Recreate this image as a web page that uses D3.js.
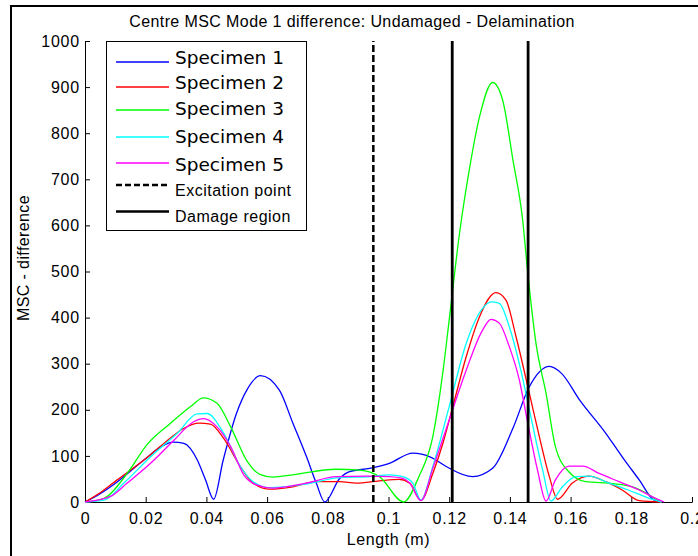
<!DOCTYPE html>
<html>
<head>
<meta charset="utf-8">
<script src="https://cdn.jsdelivr.net/npm/d3@7"></script>
<style>
  body { margin: 0; background: #fff; }
  text { font-family: "Liberation Sans", Arial, sans-serif; }
</style>
</head>
<body>
<div id="chart"></div>
<script>
// values: [length (m), MSC difference]
const specimen1 = [[0, 0], [0.005, 18], [0.0107, 44], [0.0194, 91], [0.0249, 119], [0.029, 130], [0.0326, 127],
  [0.037, 91], [0.0397, 48], [0.0424, 6], [0.0455, 90], [0.0499, 192], [0.0535, 245], [0.0578, 274], [0.064, 243],
  [0.0685, 171], [0.073, 98], [0.0762, 41], [0.079, 0], [0.0839, 51], [0.0872, 66], [0.0938, 73], [0.1003, 84],
  [0.108, 106], [0.114, 97], [0.119, 77], [0.1277, 55], [0.1343, 73], [0.141, 160], [0.1464, 250], [0.153, 294],
  [0.157, 279], [0.163, 221], [0.1716, 149], [0.177, 98], [0.1826, 48], [0.1875, 4], [0.19, 0]];
const specimen2 = [[0, 0], [0.005, 20], [0.0106, 48], [0.0194, 91], [0.026, 127], [0.0326, 160], [0.0375, 171],
  [0.0413, 169], [0.0457, 138], [0.0512, 77], [0.0554, 41], [0.0609, 28], [0.0685, 33], [0.0762, 44], [0.0839, 44],
  [0.0894, 41], [0.097, 46], [0.1036, 49], [0.107, 41], [0.1107, 4], [0.1146, 62], [0.1179, 127], [0.1212, 207],
  [0.1256, 315], [0.13, 402], [0.1354, 454], [0.1387, 438], [0.142, 359], [0.1464, 236], [0.1497, 142], [0.153, 55],
  [0.1557, 6], [0.1606, 41], [0.166, 56], [0.1716, 44], [0.177, 26], [0.1826, 3], [0.19, 0]];
const specimen3 = [[0, 0], [0.0063, 8], [0.0139, 62], [0.0205, 125], [0.0282, 171], [0.0348, 207], [0.039, 226],
  [0.0435, 214], [0.048, 163], [0.0532, 91], [0.0576, 60], [0.062, 54], [0.0685, 59], [0.0828, 71], [0.0905, 69],
  [0.097, 55], [0.105, 0], [0.11, 55], [0.1146, 142], [0.118, 286], [0.12, 395], [0.1234, 583], [0.1266, 720],
  [0.13, 836], [0.1343, 910], [0.1376, 872], [0.141, 742], [0.1442, 612], [0.1458, 503], [0.1486, 344],
  [0.1519, 236], [0.155, 120], [0.1595, 65], [0.165, 44], [0.1738, 40], [0.1804, 33], [0.185, 19], [0.1886, 4], [0.19, 0]];
const specimen4 = [[0, 0], [0.0063, 4], [0.0128, 41], [0.0216, 98], [0.0304, 149], [0.0369, 191], [0.0402, 192],
  [0.0457, 149], [0.0512, 77], [0.0554, 44], [0.0609, 31], [0.0729, 39], [0.0839, 53], [0.0938, 55], [0.1003, 59],
  [0.1047, 55], [0.108, 41], [0.1107, 4], [0.1146, 77], [0.12, 207], [0.1256, 344], [0.131, 420], [0.1338, 434],
  [0.1365, 431], [0.1398, 380], [0.1436, 286], [0.1469, 185], [0.1508, 69], [0.1535, 2], [0.1573, 33],
  [0.1617, 55], [0.166, 56], [0.1727, 41], [0.179, 26], [0.1859, 8], [0.19, 0]];
const specimen5 = [[0, 0], [0.0084, 12], [0.0139, 41], [0.0216, 84], [0.0293, 134], [0.0358, 174], [0.039, 181],
  [0.0435, 163], [0.048, 120], [0.0523, 59], [0.0565, 37], [0.062, 30], [0.0729, 41], [0.0828, 55], [0.0927, 56],
  [0.1003, 55], [0.1047, 51], [0.107, 41], [0.1107, 3], [0.1146, 73], [0.12, 178], [0.1256, 286], [0.131, 373],
  [0.1338, 396], [0.1365, 388], [0.1398, 337], [0.1431, 265], [0.1458, 174], [0.1491, 69], [0.1519, 2],
  [0.155, 48], [0.1595, 78], [0.164, 78], [0.1694, 62], [0.176, 44], [0.1826, 26], [0.188, 8], [0.1908, 0]];

const seriesNames = ["Specimen 1", "Specimen 2", "Specimen 3", "Specimen 4", "Specimen 5"];
const seriesColors = ["#0000ff", "#ff0000", "#00ff00", "#00ffff", "#ff00ff"];
const excitationPoint = [0.095];
const damageRegion = [0.121, 0.146];

const xTicks = [0, 0.02, 0.04, 0.06, 0.08, 0.1, 0.12, 0.14, 0.16, 0.18, 0.2];
const xTickLabels = ["0", "0.02", "0.04", "0.06", "0.08", "0.1", "0.12", "0.14", "0.16", "0.18", "0.2"];
const yTicks = [0, 100, 200, 300, 400, 500, 600, 700, 800, 900, 1000];
const yTickLabels = ["0", "100", "200", "300", "400", "500", "600", "700", "800", "900", "1000"];

const width = 698;
const height = 556;
const margin = { top: 41, right: 6, bottom: 54, left: 85 };

const svg = d3
  .select("#chart")
  .append("svg")
  .attr("width", width)
  .attr("height", height)
  .style("display", "block");

svg.append("rect").attr("width", width).attr("height", height).attr("fill", "#fff");

// figure frame (only top and left edges are inside the shot)
svg.append("path")
  .attr("d", `M11,${height}V6H${width}`)
  .attr("fill", "none")
  .attr("stroke", "#000")
  .attr("stroke-width", 2);

const x = d3.scaleLinear().domain([0, 0.2]).range([margin.left, width - margin.right]);
const y = d3.scaleLinear().domain([0, 1000]).range([height - margin.bottom, margin.top]);

const xAxis = d3.axisBottom(x)
  .tickValues(xTicks)
  .tickFormat((d, i) => xTickLabels[i])
  .tickSizeInner(-5)
  .tickSizeOuter(0)
  .tickPadding(11);

const yAxis = d3.axisLeft(y)
  .tickValues(yTicks)
  .tickFormat((d, i) => yTickLabels[i])
  .tickSizeInner(-5)
  .tickSizeOuter(0)
  .tickPadding(5);

const xGroup = svg.append("g")
  .attr("transform", `translate(0,${y(0)})`)
  .call(xAxis);

const yGroup = svg.append("g")
  .attr("transform", `translate(${x(0)},0)`)
  .call(yAxis);

[xGroup, yGroup].forEach((g) => {
  g.attr("font-family", "Liberation Sans, Arial, sans-serif")
    .attr("font-size", 16)
    .style("letter-spacing", "0.8px");
  g.selectAll("path, line").attr("stroke", "#000");
  g.selectAll("text").attr("fill", "#000");
});

const line = d3.line()
  .x((d) => x(d[0]))
  .y((d) => y(d[1]))
  .curve(d3.curveMonotoneX);

const allSeries = [specimen1, specimen2, specimen3, specimen4, specimen5];

svg.append("g")
  .selectAll("path")
  .data(allSeries)
  .join("path")
  .attr("d", line)
  .attr("fill", "none")
  .attr("stroke", (d, i) => seriesColors[i])
  .attr("stroke-width", 1.3);

// excitation point and damage region markers
svg.append("g")
  .selectAll("line")
  .data(excitationPoint)
  .join("line")
  .attr("x1", (d) => x(d))
  .attr("x2", (d) => x(d))
  .attr("y1", y(0))
  .attr("y2", y(1000))
  .attr("stroke", "#000")
  .attr("stroke-width", 2.5)
  .attr("stroke-dasharray", "7,3");

svg.append("g")
  .selectAll("line")
  .data(damageRegion)
  .join("line")
  .attr("x1", (d) => x(d))
  .attr("x2", (d) => x(d))
  .attr("y1", y(0))
  .attr("y2", y(1000))
  .attr("stroke", "#000")
  .attr("stroke-width", 2.8);

// title and axis labels
svg.append("text")
  .attr("x", 352)
  .attr("y", 26.5)
  .attr("text-anchor", "middle")
  .attr("font-size", 16)
  .style("letter-spacing", "0.4px")
  .text("Centre MSC Mode 1 difference: Undamaged - Delamination");

svg.append("text")
  .attr("x", (x(0) + x(0.2)) / 2)
  .attr("y", 545)
  .attr("text-anchor", "middle")
  .attr("font-size", 16)
  .style("letter-spacing", "0.6px")
  .text("Length (m)");

svg.append("text")
  .attr("transform", "translate(29,258) rotate(-90)")
  .attr("text-anchor", "middle")
  .attr("font-size", 16)
  .style("letter-spacing", "0.4px")
  .text("MSC - difference");

// legend
const legend = svg.append("g");
legend.append("rect")
  .attr("x", 106.5)
  .attr("y", 41.5)
  .attr("width", 200)
  .attr("height", 189)
  .attr("fill", "#fff")
  .attr("stroke", "#000");

const legendItems = [
  { label: seriesNames[0], color: seriesColors[0], ly: 62, ty: 64, big: true },
  { label: seriesNames[1], color: seriesColors[1], ly: 87, ty: 89, big: true },
  { label: seriesNames[2], color: seriesColors[2], ly: 110, ty: 115, big: true },
  { label: seriesNames[3], color: seriesColors[3], ly: 137, ty: 143, big: true },
  { label: seriesNames[4], color: seriesColors[4], ly: 163, ty: 171, big: true },
  { label: "Excitation point", color: "#000", ly: 185, ty: 196, dash: "6,3" },
  { label: "Damage region", color: "#000", ly: 211.5, ty: 222 }
];

const item = legend.selectAll("g")
  .data(legendItems)
  .join("g");

item.append("line")
  .attr("x1", 116)
  .attr("x2", 169)
  .attr("y1", (d) => d.ly)
  .attr("y2", (d) => d.ly)
  .attr("stroke", (d) => d.color)
  .attr("stroke-width", (d) => (d.big ? 1.5 : 2.5))
  .attr("stroke-dasharray", (d) => d.dash || null);

item.append("text")
  .attr("x", 175)
  .attr("y", (d) => d.ty)
  .attr("font-size", (d) => (d.big ? 18.5 : 16))
  .style("font-family", (d) => (d.big ? "DejaVu Sans, sans-serif" : null))
  .style("letter-spacing", (d) => (d.big ? "0px" : "0.5px"))
  .text((d) => d.label);
</script>
</body>
</html>
